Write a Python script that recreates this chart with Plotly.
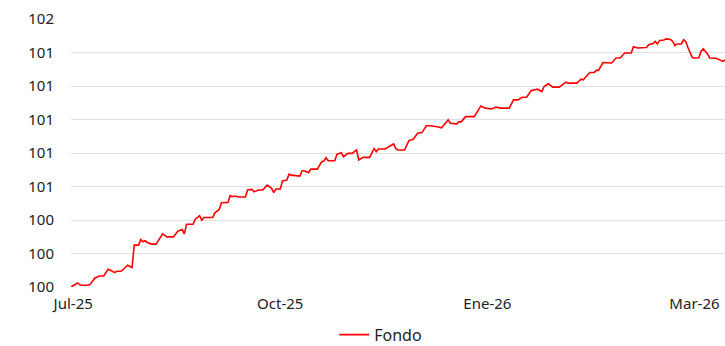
import plotly.graph_objects as go

# Sesiones (índice de la serie) y valor liquidativo del fondo, base 100
sesion = [0, 3, 4, 5, 8, 9, 11, 12, 13, 15, 17, 19, 20, 21, 23, 26, 27, 28, 29, 31,
          32, 33, 34, 35, 37, 39, 41, 42, 44, 47, 49, 51, 52, 53, 56, 57, 59, 60, 61, 65,
          66, 68, 69, 72, 73, 74, 75, 77, 80, 81, 83, 84, 86, 88, 90, 92, 93, 94, 96, 97,
          99, 100, 101, 104, 105, 106, 107, 109, 110, 113, 115, 116, 117, 118, 121, 122, 124, 125, 127, 129,
          131, 132, 134, 137, 139, 140, 141, 144, 146, 147, 148, 149, 150, 153, 155, 157, 159, 161, 163, 165,
          168, 170, 173, 174, 177, 178, 179, 181, 185, 188, 190, 193, 195, 197, 201, 203, 205, 207, 209, 211,
          214, 216, 217, 219, 221, 224, 227, 228, 232, 234, 235, 238, 240, 241, 242, 244, 248, 250, 252, 254,
          257, 258, 260, 264, 265, 267, 268, 269, 270, 272, 273, 275, 276, 277, 278, 280, 281, 282, 283, 285,
          286, 288, 289, 290, 292, 293, 296, 299, 300]
valor = [100.000, 100.024, 100.014, 100.010, 100.010, 100.020, 100.054, 100.058, 100.066, 100.066,
         100.106, 100.094, 100.086, 100.094, 100.094, 100.130, 100.124, 100.116, 100.250, 100.250,
         100.284, 100.270, 100.276, 100.266, 100.256, 100.256, 100.296, 100.317, 100.299, 100.299,
         100.333, 100.343, 100.317, 100.375, 100.375, 100.405, 100.425, 100.399, 100.415, 100.415,
         100.443, 100.463, 100.503, 100.505, 100.545, 100.539, 100.543, 100.537, 100.537, 100.579,
         100.583, 100.569, 100.579, 100.579, 100.609, 100.589, 100.563, 100.585, 100.585, 100.633,
         100.639, 100.674, 100.668, 100.664, 100.662, 100.694, 100.694, 100.682, 100.704, 100.704,
         100.748, 100.752, 100.772, 100.754, 100.754, 100.792, 100.802, 100.778, 100.798, 100.798,
         100.818, 100.758, 100.774, 100.774, 100.826, 100.808, 100.824, 100.824, 100.842, 100.846,
         100.854, 100.826, 100.818, 100.818, 100.874, 100.882, 100.918, 100.922, 100.963, 100.963,
         100.957, 100.950, 100.998, 100.978, 100.974, 100.987, 100.986, 101.017, 101.017, 101.081,
         101.068, 101.063, 101.074, 101.068, 101.068, 101.117, 101.117, 101.133, 101.133, 101.172,
         101.181, 101.167, 101.197, 101.213, 101.193, 101.193, 101.223, 101.217, 101.217, 101.241,
         101.237, 101.281, 101.281, 101.293, 101.293, 101.340, 101.337, 101.367, 101.369, 101.397,
         101.397, 101.434, 101.427, 101.430, 101.446, 101.454, 101.466, 101.451, 101.472, 101.475,
         101.481, 101.478, 101.466, 101.442, 101.451, 101.451, 101.476, 101.466, 101.430, 101.370,
         101.367, 101.369, 101.406, 101.422, 101.391, 101.367, 101.366, 101.347, 101.355]

# Etiquetas del eje temporal
tick_pos = [1, 96, 191, 286]
tick_lab = ["Jul-25", "Oct-25", "Ene-26", "Mar-26"]

# Eje vertical
y_ticks = [100.0, 100.2, 100.4, 100.6, 100.8, 101.0, 101.2, 101.4, 101.6]

FONT = "Noto Sans"

fig = go.Figure()
fig.add_trace(go.Scatter(
    x=sesion, y=valor, mode="lines", name="Fondo",
    line=dict(color="#ff0000", width=1.6),
))

fig.update_layout(
    width=725, height=346,
    margin=dict(l=71, r=0, t=19, b=59, autoexpand=False),
    paper_bgcolor="white", plot_bgcolor="white",
    font=dict(family=FONT, size=15, color="#222222"),
    showlegend=True,
    legend=dict(orientation="h", x=0.461, xanchor="left", xref="container",
                y=-0.178, yanchor="middle", yref="paper",
                font=dict(size=16, color="#222222"), itemwidth=30),
    xaxis=dict(range=[0, 300], tickmode="array", tickvals=tick_pos, ticktext=tick_lab,
               showgrid=False, zeroline=False, showline=False, ticks="",
               ticklabelstandoff=6, tickfont=dict(size=15)),
    yaxis=dict(range=[100, 101.6], tickmode="array", tickvals=y_ticks, tickformat=".0f",
               showgrid=True, gridcolor="#e0e0e0", gridwidth=1,
               zeroline=False, showline=False, ticks="", ticklabelstandoff=16,
               tickfont=dict(size=15)),
)

fig.write_html("out.html")
